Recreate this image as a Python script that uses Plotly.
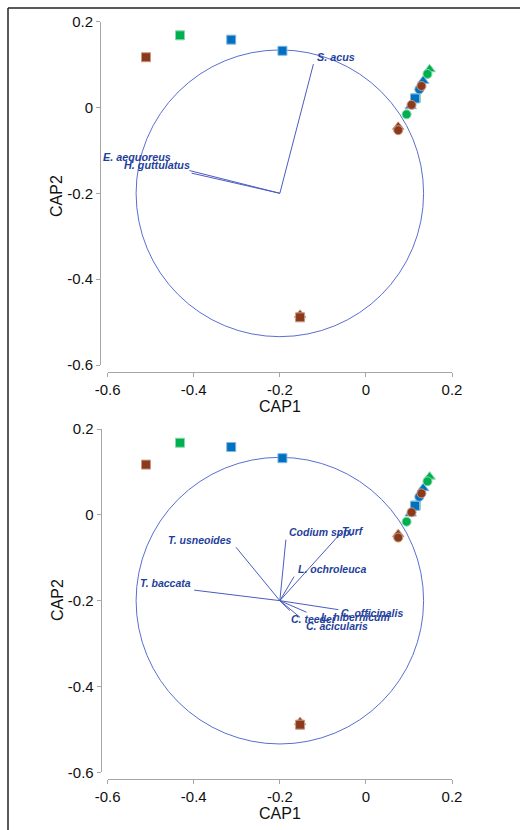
import plotly.graph_objects as go

W, H = 520, 830

# ---------------- data ----------------
# sample scores (CAP1, CAP2) by group
green_tri_x = [0.148]
green_tri_y = [0.089]
blue_tri_x = [0.133, 0.104]
blue_tri_y = [0.062, 0.003]
brown_tri_x = [0.075, -0.153]
brown_tri_y = [-0.045, -0.483]

green_sq_x = [-0.432, 0.116]
green_sq_y = [0.168, 0.022]
brown_sq_x = [-0.511, -0.153]
brown_sq_y = [0.117, -0.489]
blue_sq_x = [-0.313, -0.194, 0.114]
blue_sq_y = [0.158, 0.132, 0.021]

green_ci_x = [0.143, 0.0945]
green_ci_y = [0.078, -0.016]
blue_ci_x = [0.124]
blue_ci_y = [0.042]
brown_ci_x = [0.129, 0.106, 0.075]
brown_ci_y = [0.050, 0.006, -0.053]

# correlation circle
circle_cx, circle_cy, circle_r = -0.2, -0.2, 0.334

# vectors, top plot (fish)
top_names = ["S. acus", "E. aequoreus", "H. guttulatus"]
top_vx = [-0.122, -0.410, -0.405]
top_vy = [0.101, -0.147, -0.153]
top_lx = [-0.116, -0.451, -0.407]
top_ly = [0.118, -0.115, -0.134]
top_anchor = ["left", "right", "right"]

# vectors, bottom plot (algae)
bot_names = ["T. usneoides", "Codium spp.", "Turf", "L. ochroleuca", "T. baccata",
             "C. officinalis", "L. hibernicum", "C. acicularis", "C. teedei"]
bot_vx = [-0.302, -0.186, -0.0565, -0.167, -0.399, -0.064, -0.138, -0.153, -0.177]
bot_vy = [-0.0755, -0.058, -0.0406, -0.144, -0.1755, -0.221, -0.227, -0.239, -0.223]
bot_lx = [-0.308, -0.180, -0.059, -0.161, -0.403, -0.060, -0.107, -0.142, -0.176]
bot_ly = [-0.058, -0.041, -0.037, -0.126, -0.158, -0.229, -0.237, -0.260, -0.242]
bot_anchor = ["right", "left", "left", "left", "right", "left", "left", "left", "left"]

tick_vals = [-0.6, -0.4, -0.2, 0, 0.2]
tick_text = ["-0.6", "-0.4", "-0.2", "0", "0.2"]

# ---------------- style ----------------
BROWN, GREEN, BLUE = "#8B3A1C", "#00B050", "#0070C0"
BROWN_L, GREEN_L, BLUE_L = "#c99a84", "#8ad8aa", "#86b8e0"
VEC = "#4a5cc0"
LAB = "#1f3f9c"
FONT = "Arial, Liberation Sans, sans-serif"

fig = go.Figure()

groups = [
    (green_tri_x, green_tri_y, GREEN, GREEN_L, "triangle-up", 10),
    (blue_tri_x, blue_tri_y, BLUE, BLUE_L, "triangle-up", 10),
    (brown_tri_x, brown_tri_y, BROWN, BROWN_L, "triangle-up", 10),
    (green_sq_x, green_sq_y, GREEN, GREEN_L, "square", 9),
    (brown_sq_x, brown_sq_y, BROWN, BROWN_L, "square", 9),
    (blue_sq_x, blue_sq_y, BLUE, BLUE_L, "square", 9),
    (green_ci_x, green_ci_y, GREEN, GREEN_L, "circle", 9),
    (blue_ci_x, blue_ci_y, BLUE, BLUE_L, "circle", 9),
    (brown_ci_x, brown_ci_y, BROWN, BROWN_L, "circle", 9),
]

def seg(vx, vy):
    xs, ys = [], []
    for a, b in zip(vx, vy):
        xs += [circle_cx, a, None]
        ys += [circle_cy, b, None]
    return xs, ys

for xa, ya, names, vx, vy, lx, ly, anc, fs in [
    ("x", "y", top_names, top_vx, top_vy, top_lx, top_ly, top_anchor, 10.8),
    ("x2", "y2", bot_names, bot_vx, bot_vy, bot_lx, bot_ly, bot_anchor, 10.5),
]:
    xs, ys = seg(vx, vy)
    fig.add_trace(go.Scatter(x=xs, y=ys, mode="lines", xaxis=xa, yaxis=ya,
                             line=dict(color=VEC, width=1), hoverinfo="skip"))
    for gx, gy, col, lcol, sym, sz in groups:
        fig.add_trace(go.Scatter(x=gx, y=gy, mode="markers", xaxis=xa, yaxis=ya,
                                 marker=dict(symbol=sym, size=sz, color=col,
                                             line=dict(color=lcol, width=1))))
    fig.add_shape(type="circle", xref=xa, yref=ya,
                  x0=circle_cx - circle_r, x1=circle_cx + circle_r,
                  y0=circle_cy - circle_r, y1=circle_cy + circle_r,
                  line=dict(color="#5a6ed0", width=1), layer="below")
    for n, x, y, a in zip(names, lx, ly, anc):
        fig.add_annotation(x=x, y=y, xref=xa, yref=ya, text="<b><i>%s</i></b>" % n,
                           showarrow=False, xanchor=a, yanchor="middle",
                           font=dict(family=FONT, size=fs, color=LAB), borderpad=0)

ax_common = dict(range=[-0.6, 0.2], showgrid=False, zeroline=False, showline=True,
                 linecolor="#a6a6a6", linewidth=1, ticks="outside", ticklen=4,
                 tickcolor="#a6a6a6", tickvals=tick_vals, ticktext=tick_text,
                 tickfont=dict(family=FONT, size=15, color="#111111"), anchor="free",
                 automargin=False)

fig.update_layout(
    width=W, height=H, margin=dict(l=0, r=0, t=0, b=0, pad=0, autoexpand=False),
    plot_bgcolor="white", paper_bgcolor="white", showlegend=False,
    xaxis=dict(ax_common, domain=[107.7 / W, 452 / W], position=1 - 372.3 / H),
    yaxis=dict(ax_common, domain=[1 - 365 / H, 1 - 21.6 / H], position=100 / W),
    xaxis2=dict(ax_common, domain=[107.7 / W, 452 / W], position=1 - 779.3 / H),
    yaxis2=dict(ax_common, domain=[1 - 772.3 / H, 1 - 429 / H], position=100.7 / W),
)

# axis titles
for txt, x, y, ang in [("CAP1", 280 / W, 1 - 406.7 / H, 0), ("CAP2", 57 / W, 1 - 196 / H, -90),
                       ("CAP1", 280 / W, 1 - 813.3 / H, 0), ("CAP2", 57 / W, 1 - 600 / H, -90)]:
    fig.add_annotation(x=x, y=y, xref="paper", yref="paper", text=txt, showarrow=False,
                       textangle=ang, xanchor="center", yanchor="middle",
                       font=dict(family=FONT, size=16, color="#111111"))

# frame (left and top edges)
fig.add_shape(type="line", xref="paper", yref="paper", x0=8 / W, x1=8 / W, y0=0, y1=1 - 8 / H,
              line=dict(color="#222222", width=1.5))
fig.add_shape(type="line", xref="paper", yref="paper", x0=8 / W, x1=1, y0=1 - 8 / H, y1=1 - 8 / H,
              line=dict(color="#222222", width=1.5))

fig.write_html("out.html", config={"displayModeBar": False},
               post_script="document.body.style.margin='0';document.body.style.overflow='hidden';")
